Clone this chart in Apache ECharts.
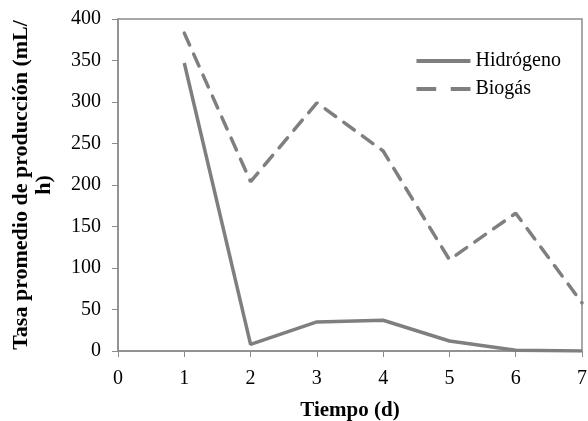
<!DOCTYPE html>
<html>
<head>
<meta charset="utf-8">
<script src="https://cdn.jsdelivr.net/npm/echarts@6/dist/echarts.min.js"></script>
<style>
  html, body { margin: 0; padding: 0; background: #fff; }
  #chart { width: 588px; height: 421px; }
</style>
</head>
<body>
<div id="chart"></div>
<script>
const days = [1, 2, 3, 4, 5, 6, 7]
const hidrogeno = [347, 8, 35, 37, 12, 1, 0]
const biogas = [383, 204, 299, 241, 110, 166, 58]

const font = 'Liberation Serif'
const gray = '#7f7f7f'

const chart = echarts.init(document.getElementById('chart'), null, { renderer: 'canvas' })

chart.setOption({
  animation: false,
  grid: {
    left: 118, top: 19, right: 6, bottom: 70,
    outerBoundsMode: 'none',
    show: true, borderColor: '#8c8c8c', borderWidth: 1.5
  },
  legend: {
    right: 22, top: 46,
    orient: 'vertical',
    itemWidth: 54, itemHeight: 4, itemGap: 8,
    symbolKeepAspect: false,
    textStyle: { fontFamily: font, fontSize: 20, color: '#000' },
    data: [
      { name: 'Hidrógeno', icon: 'path://M0,0h54v4h-54z' },
      { name: 'Biogás', icon: 'path://M0,0h19v4h-19z M33,0h19v4h-19z' }
    ]
  },
  xAxis: {
    type: 'value', min: 0, max: 7, interval: 1,
    name: 'Tiempo (d)', nameLocation: 'middle', nameGap: 49,
    nameTextStyle: { fontFamily: font, fontSize: 21, fontWeight: 'bold', color: '#000' },
    axisLine: { lineStyle: { color: '#8c8c8c', width: 1.5 } },
    axisTick: { show: true, length: 6, lineStyle: { color: '#8c8c8c' } },
    axisLabel: { fontFamily: font, fontSize: 20, color: '#000', margin: 18 },
    splitLine: { show: false }
  },
  yAxis: {
    type: 'value', min: 0, max: 400, interval: 50,
    name: 'Tasa promedio de producción (mL/\nh)', nameLocation: 'middle', nameGap: 62,
    nameTextStyle: { fontFamily: font, fontSize: 22, fontWeight: 'bold', color: '#000', lineHeight: 23 },
    axisLine: { show: true, lineStyle: { color: '#8c8c8c', width: 1.5 } },
    axisTick: { show: true, length: 6, lineStyle: { color: '#8c8c8c' } },
    axisLabel: { fontFamily: font, fontSize: 20, color: '#000', margin: 17 },
    splitLine: { show: false }
  },
  series: [
    {
      name: 'Hidrógeno', type: 'line', symbol: 'none',
      data: days.map((d, i) => [d, hidrogeno[i]]),
      lineStyle: { color: gray, width: 3.5 },
      itemStyle: { color: gray }
    },
    {
      name: 'Biogás', type: 'line', symbol: 'none',
      data: days.map((d, i) => [d, biogas[i]]),
      lineStyle: { color: gray, width: 3.5, type: [13, 10], cap: 'round' },
      itemStyle: { color: gray }
    }
  ]
})
</script>
</body>
</html>
